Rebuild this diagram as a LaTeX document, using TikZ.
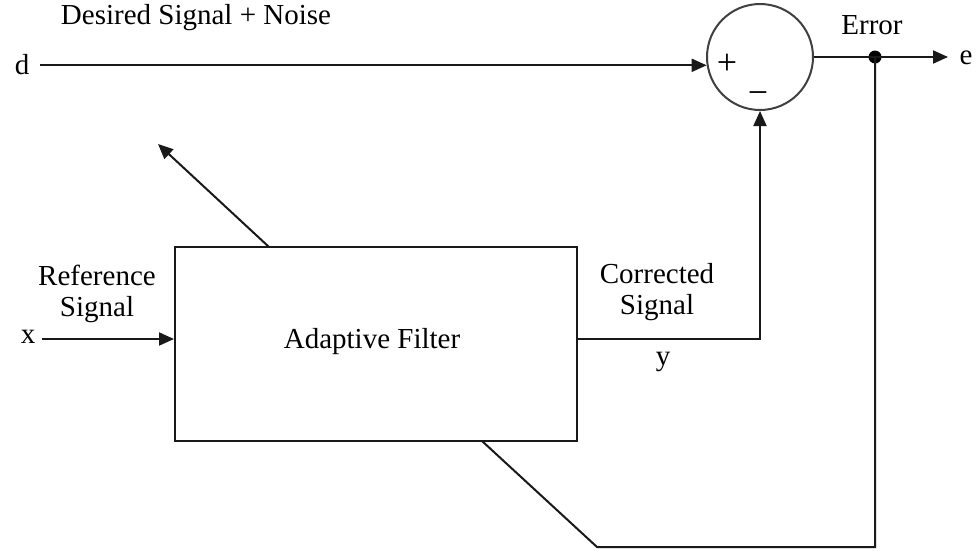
\documentclass[tikz,border=0pt]{standalone}
\usepackage{fontspec}
\setmainfont{Liberation Serif}
\usetikzlibrary{arrows.meta,calc}
\tikzset{
  wire/.style={line width=2pt, draw=black!90},
  sig/.style={wire, -{Triangle[length=15pt,width=13pt]}},
  lbl/.style={font=\fontsize{29}{33}\selectfont, inner sep=0pt, align=center},
  signlbl/.style={font=\fontsize{36}{40}\selectfont, inner sep=0pt},
  blockbox/.style={draw=black!90, line width=2pt, minimum width=402pt, minimum height=194pt, inner sep=0pt},
  sumnode/.style={circle, draw=black!75, line width=2pt, minimum size=106pt, inner sep=0pt},
  junction/.style={circle, fill=black, minimum size=13pt, inner sep=0pt}
}
\begin{document}
\begin{tikzpicture}[x=1pt,y=-1pt]
\useasboundingbox (0,0) rectangle (977,552);

% summing junction and adaptive filter block
\node[sumnode] (S) at (760,57) {};
\node[signlbl] (plus) at (727,64) {+};
\node[signlbl] (minus) at (758,98) {−};
\node[blockbox] (F) at (376,344) {};
\node[lbl] (ftext) at (372,342) {Adaptive Filter};

% labels
\node[lbl] (dlab) at (22,65) {d};
\node[lbl] (desired) at (196,18) {Desired Signal + Noise};
\node[lbl] (xlab) at (28,337) {x};
\node[lbl] (reflab) at (97,294) {Reference\\[-2pt]Signal};
\node[lbl] (corrlab) at (657,292) {Corrected\\[-2pt]Signal};
\node[lbl] (ylab) at (663,362) {y};
\node[lbl] (errlab) at (872,25) {Error};
\node[lbl] (elab) at (966,58) {e};

% connection points
\coordinate (din) at (40,65.3);
\coordinate (xin) at (42,339);
\coordinate (corner) at (S.south |- xin);
\node[junction] (J) at (875,57) {};
\coordinate (eout) at (948,57);
\coordinate (jbottom) at (875,547);
\coordinate (bend) at (597,547);
\coordinate (fbot) at (482,441);
\coordinate (ftop) at (269,247);
\coordinate (adapt) at (158,144);

% signal paths
\draw[sig] (din) -- (din -| S.189);
\draw[sig] (xin) -- (xin -| F.west);
\draw[sig] (xin -| F.east) -- (corner) -- (S.south);
\draw[wire] (S.east) -- (J.center);
\draw[sig] (J.center) -- (eout);
\draw[wire] (J.center) -- (jbottom) -- (bend) -- (fbot);
\draw[sig] (ftop) -- (adapt);
\end{tikzpicture}
\end{document}
